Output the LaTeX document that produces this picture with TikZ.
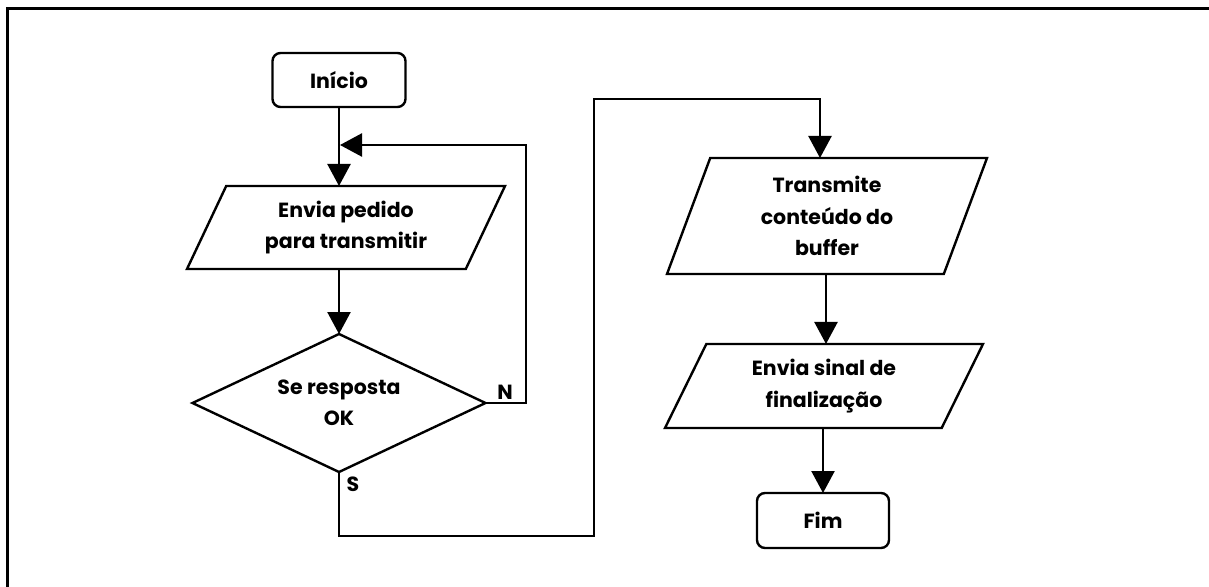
\documentclass[tikz,border=0pt]{standalone}
\usepackage{fontspec}
\setmainfont{Poppins}
\usetikzlibrary{arrows.meta,shapes.geometric}

\begin{document}
\begin{tikzpicture}[x=1pt,y=-1pt,
  every node/.style={font=\fontsize{20.5}{31.5}\selectfont\bfseries, align=center},
  line/.style={line width=2.4pt, line join=miter},
  flow/.style={line, -{Triangle[length=22pt,width=23pt]}},
  terminal/.style={line, draw, rounded corners=8pt, inner sep=0pt, outer sep=0pt},
  io/.style={line, draw, shape=trapezium, trapezium stretches body, inner sep=0pt, outer sep=0pt},
  decision/.style={line, draw, shape=diamond, aspect=2.12, inner sep=0pt, outer sep=0pt,
    minimum width=293pt, minimum height=138pt},
  tag/.style={font=\fontsize{20.5}{24}\selectfont\bfseries, inner sep=0pt}]

  \useasboundingbox (0,0) rectangle (1209,586);

  % page frame (top and left edges)
  \draw[line width=2.4pt] (7.5,600) -- (7.5,8.5) -- (1220,8.5);

  % left column
  \node[terminal, minimum width=133pt, minimum height=54pt] (inicio) at (339,80) {Início};
  \node[io, trapezium left angle=53.7, trapezium right angle=126.3,
        minimum width=318pt, minimum height=83pt] (envia) at (346,227.5)
        {Envia pedido\\para transmitir};
  \node[decision] (resp) at (339,403) {Se resposta\\OK};

  % right column
  \node[io, trapezium left angle=61.5, trapezium right angle=118.5,
        minimum width=320pt, minimum height=116pt] (transm) at (827,216)
        {Transmite\\conteúdo do\\buffer};
  \node[io, trapezium left angle=52.3, trapezium right angle=127.7,
        minimum width=318pt, minimum height=84pt] (sinal) at (824,386)
        {Envia sinal de\\finalização};
  \node[terminal, minimum width=132pt, minimum height=55pt] (fim) at (823,520.5) {Fim};

  % branch labels
  \node[tag] (labN) at (505,392) {N};
  \node[tag] (labS) at (353,484) {S};

  % routing points
  \coordinate (loopin) at (340,145);
  \coordinate (loopup) at (526,145);
  \coordinate (sdown) at (339,536);
  \coordinate (sright) at (594,536);
  \coordinate (stop) at (594,99);
  \coordinate (tin) at (820,99);
  \coordinate (tout) at (826,300);
  \coordinate (sout) at (823,450);

  % connectors
  \draw[flow] (inicio.south) -- (inicio.south |- envia.north);
  \draw[flow] (resp.east) -- (resp.east -| loopup) -- (loopup) -- (loopin);
  \draw[flow] (inicio.south |- envia.south) -- (resp.north);
  \draw[flow] (resp.south) -- (sdown) -- (sright) -- (stop) -- (tin) -- (tin |- transm.north);
  \draw[flow] (tout |- transm.south) -- (tout |- sinal.north);
  \draw[flow] (sout |- sinal.south) -- (fim.north);
\end{tikzpicture}
\end{document}
